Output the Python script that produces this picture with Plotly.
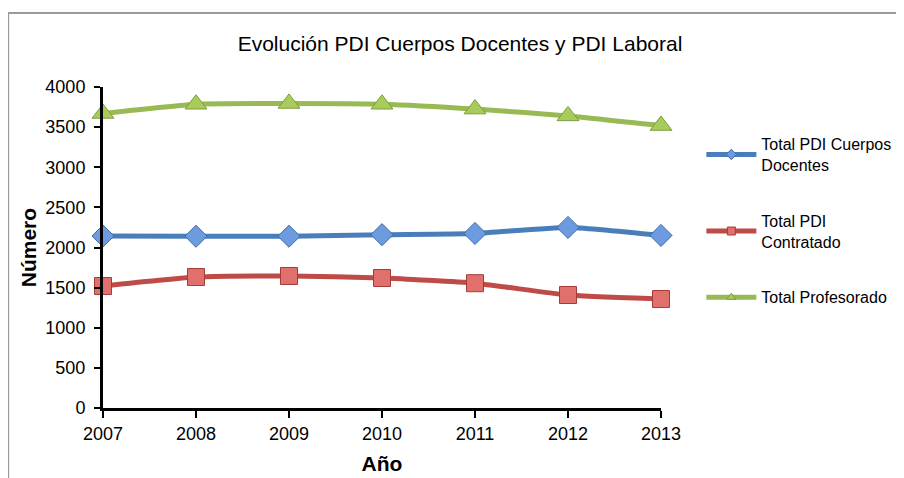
import plotly.graph_objects as go

years = [2007, 2008, 2009, 2010, 2011, 2012, 2013]
cuerpos_docentes = [2143, 2140, 2140, 2160, 2175, 2250, 2150]
contratado = [1520, 1632, 1645, 1620, 1555, 1408, 1358]
profesorado = [3670, 3785, 3795, 3785, 3725, 3640, 3520]

names = ["Total PDI Cuerpos<br>Docentes", "Total PDI<br>Contratado", "Total Profesorado"]
series = [cuerpos_docentes, contratado, profesorado]
line_colors = ["#4a7ebb", "#be4b48", "#98b954"]
fill_colors = ["#6d9be0", "#e0706c", "#a8cc5c"]
edge_colors = ["#3a6aa5", "#a53c39", "#7e9c3e"]
symbols = ["diamond", "square", "triangle-up"]
sizes = [17, 17, 19]

FONT = "Liberation Sans, Arial"

fig = go.Figure()
for i in range(3):
    fig.add_trace(
        go.Scatter(
            x=years,
            y=series[i],
            name=names[i],
            mode="lines+markers",
            line=dict(color=line_colors[i], width=5, shape="spline", smoothing=0.5),
            marker=dict(symbol=symbols[i], size=sizes[i], color=fill_colors[i],
                        line=dict(color=edge_colors[i], width=1)),
            showlegend=False,
            cliponaxis=False,
        )
    )
# legend entries with small markers, like the original
for i in range(3):
    fig.add_trace(
        go.Scatter(
            x=[None],
            y=[None],
            name=names[i],
            mode="lines+markers",
            line=dict(color=line_colors[i], width=5),
            marker=dict(symbol=symbols[i], size=8, color=fill_colors[i],
                        line=dict(color=edge_colors[i], width=1)),
            legendgroup=str(i),
        )
    )

fig.update_layout(
    width=904,
    height=478,
    margin=dict(l=95, r=251, t=79, b=78),
    paper_bgcolor="white",
    plot_bgcolor="white",
    font=dict(family=FONT, color="black", size=16),
    title=dict(
        text="Evolución PDI Cuerpos Docentes y PDI Laboral",
        x=0.5, xanchor="center", y=0.925, yanchor="middle",
        font=dict(size=21, family=FONT, color="black"),
    ),
    showlegend=True,
    legend=dict(
        xref="container", x=0.767, xanchor="left",
        y=0.875, yanchor="top",
        font=dict(size=16, family=FONT, color="black"),
        tracegroupgap=32,
        itemwidth=50,
        bgcolor="rgba(0,0,0,0)",
    ),
    xaxis=dict(
        range=[2007, 2013],
        tickvals=years,
        ticks="outside",
        ticklen=7,
        tickwidth=2,
        tickcolor="black",
        showline=True,
        linecolor="black",
        linewidth=3,
        showgrid=False,
        zeroline=False,
        tickfont=dict(size=18, family=FONT),
        title=dict(text="<b>Año</b>", font=dict(size=21, family=FONT), standoff=14),
    ),
    yaxis=dict(
        range=[0, 4000],
        dtick=500,
        ticks="outside",
        ticklen=6,
        tickwidth=2,
        tickcolor="black",
        showline=True,
        linecolor="black",
        linewidth=3,
        showgrid=False,
        zeroline=False,
        ticklabelstandoff=5,
        tickfont=dict(size=18, family=FONT),
    ),
    annotations=[
        dict(text="<b>Número</b>", textangle=-90, xref="paper", yref="paper",
             x=-0.133, y=0.5, xanchor="center", yanchor="middle", showarrow=False,
             font=dict(size=21, family=FONT, color="black")),
    ],
    shapes=[
        dict(type="rect", xref="paper", yref="paper",
             x0=-0.17, x1=1.445, y0=-0.25, y1=1.2305,
             line=dict(color="#9a9a9a", width=2), layer="below"),
    ],
)

fig.write_html("out.html")
